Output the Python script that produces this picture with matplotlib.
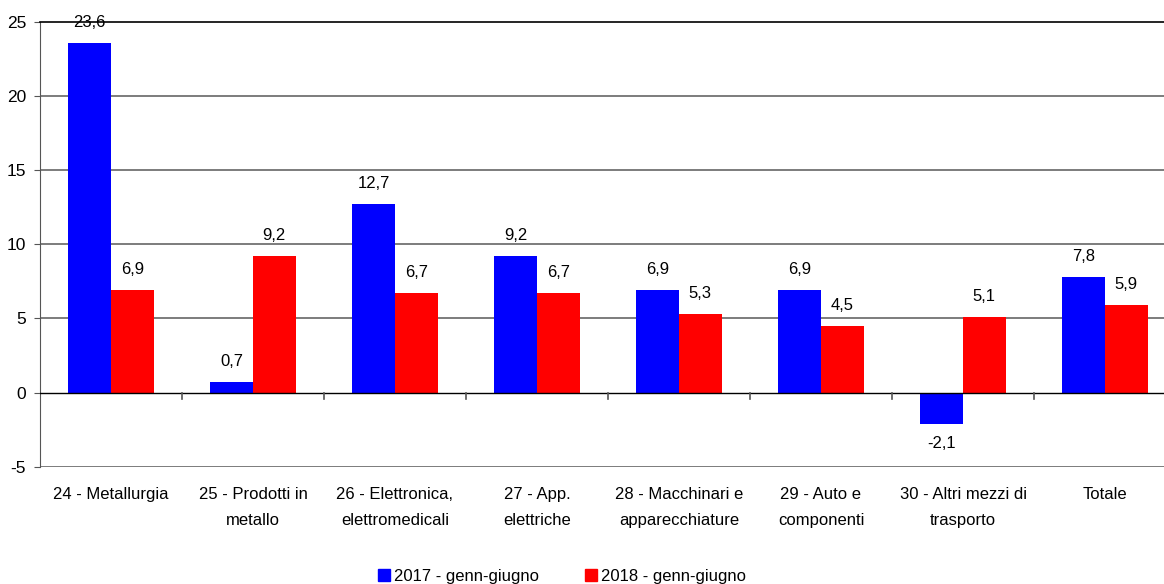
import matplotlib.pyplot as plt
import numpy as np
from matplotlib.transforms import blended_transform_factory
from matplotlib.patches import Patch

plt.rcParams['font.family'] = ['Liberation Sans', 'DejaVu Sans']

categories = ["24 - Metallurgia", "25 - Prodotti in\nmetallo", "26 - Elettronica,\nelettromedicali",
              "27 - App.\nelettriche", "28 - Macchinari e\napparecchiature", "29 - Auto e\ncomponenti",
              "30 - Altri mezzi di\ntrasporto", "Totale"]
v2017 = [23.6, 0.7, 12.7, 9.2, 6.9, 6.9, -2.1, 7.8]
v2018 = [6.9, 9.2, 6.7, 6.7, 5.3, 4.5, 5.1, 5.9]
series_labels = ["2017 - genn-giugno", "2018 - genn-giugno"]
colors = ["#0000FF", "#FF0000"]
yticks = [-5, 0, 5, 10, 15, 20, 25]

W, H = 1164, 584
FS = 12
fig = plt.figure(figsize=(W / 100, H / 100), dpi=100)
ax = fig.add_axes([40 / W, (H - 466.7) / H, (1176 - 40) / W, (466.7 - 22) / H])

x = np.arange(len(categories))
bw = 0.3
ax.bar(x - bw / 2, v2017, bw, color=colors[0], zorder=3)
ax.bar(x + bw / 2, v2018, bw, color=colors[1], zorder=3)

ax.set_xlim(-0.5, len(categories) - 0.5)
ax.set_ylim(-5, 25)
ax.set_yticks(yticks)
ax.set_yticklabels([str(t) for t in yticks], fontsize=FS + 0.5)
ax.tick_params(axis='y', length=4, pad=6, color='#555555')

# grid lines
for t in yticks:
    if t in (0, 25):
        continue
    ax.axhline(t, color='#666666', lw=1.2, zorder=1)
ax.axhline(0, color='black', lw=1.0, zorder=4)

for s in ['right', 'bottom']:
    ax.spines[s].set_visible(False)
ax.spines['top'].set_color('black')
ax.spines['top'].set_linewidth(1.2)
ax.spines['left'].set_color('#555555')

# x tick marks at the zero line between groups
ax.set_xticks([])
for b in np.arange(0.5, len(categories) - 0.5, 1):
    ax.plot([b, b], [0, -0.45], color='#555555', lw=1.2, zorder=4, clip_on=False)

# category labels
trans = blended_transform_factory(ax.transData, fig.transFigure)
for xi, lab in zip(x, categories):
    ax.text(xi, (H - 487) / H, lab, transform=trans, ha='center', va='top',
            fontsize=FS, linespacing=1.9)

# value labels
def fmt(v):
    return f"{v:.1f}".replace('.', ',')

for xs, vals in [(x - bw / 2, v2017), (x + bw / 2, v2018)]:
    for xi, v in zip(xs, vals):
        off = 14.8 if v >= 0 else -14
        ax.annotate(fmt(v), (xi, v), xytext=(0, off), textcoords='offset points',
                    ha='center', va='center', fontsize=FS, zorder=5)

handles = [Patch(color=c, label=l) for c, l in zip(colors, series_labels)]
fig.legend(handles=handles, loc='center', bbox_to_anchor=(562 / W, (H - 576) / H),
           ncol=2, frameon=False, fontsize=FS, handlelength=0.7, handleheight=0.7,
           handletextpad=0.25, columnspacing=2.8)

fig.savefig("out.png", dpi=100)
